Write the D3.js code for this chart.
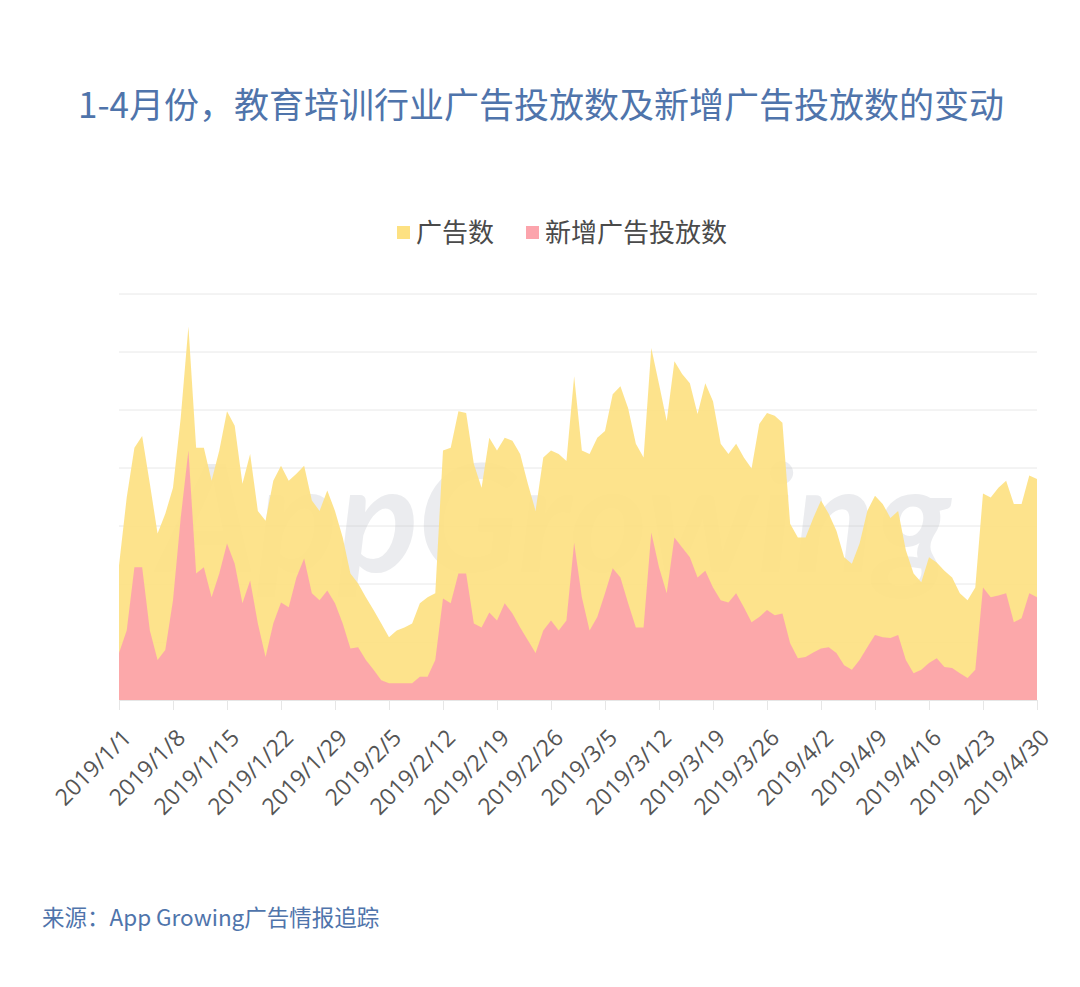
<!DOCTYPE html>
<html>
<head>
<meta charset="utf-8">
<script src="https://cdn.jsdelivr.net/npm/d3@7"></script>
<style>
  body { margin: 0; background: #fff; }
  svg { display: block; }
</style>
</head>
<body>
<svg id="canvas" width="1080" height="987"></svg>
<script>
// daily values, 2019/1/1 .. 2019/4/30
let adCount = [
  2320, 3490, 4350, 4550, 3730, 2870, 3210, 3660, 4860, 6440,
  4350, 4350, 3780, 4300, 4980, 4730, 3730, 4240, 3260, 3090,
  3780, 4040, 3780, 3900, 4040, 3440, 3260, 3610, 3260, 2800,
  2180, 2010, 1770, 1550, 1320, 1080, 1200, 1250, 1320, 1670,
  1770, 1840, 4300, 4350, 4980, 4950, 4070, 3660, 4520, 4300,
  4520, 4470, 4240, 3730, 3260, 4180, 4300, 4240, 4120, 5580,
  4300, 4240, 4520, 4640, 5270, 5410, 5030, 4420, 4180, 6070,
  5450, 4810, 5840, 5620, 5460, 4930, 5460, 5150, 4420, 4240,
  4420, 4180, 3990, 4760, 4950, 4900, 4780, 3040, 2800, 2800,
  3140, 3440, 3210, 2920, 2460, 2350, 2700, 3260, 3520, 3380,
  3140, 3260, 2580, 2180, 2030, 2460, 2370, 2230, 2110, 1840,
  1720, 1940, 3560, 3490, 3660, 3780, 3380, 3380, 3870, 3810
]

let newAdCount = [
  810, 1200, 2290, 2290, 1200, 690, 860, 1720, 3140, 4300,
  2180, 2290, 1770, 2180, 2700, 2350, 1670, 2060, 1320, 740,
  1320, 1680, 1600, 2110, 2440, 1840, 1720, 1890, 1670, 1320,
  890, 910, 690, 520, 340, 290, 290, 290, 290, 400,
  400, 690, 1750, 1670, 2180, 2180, 1320, 1250, 1510, 1370,
  1670, 1490, 1250, 1030, 810, 1200, 1370, 1200, 1370, 2710,
  1770, 1200, 1430, 1840, 2270, 2110, 1670, 1250, 1250, 2890,
  2290, 1840, 2800, 2630, 2460, 2110, 2230, 1940, 1720, 1680,
  1840, 1600, 1340, 1430, 1550, 1460, 1490, 980, 720, 740,
  820, 890, 910, 810, 600, 520, 690, 910, 1120, 1080,
  1070, 1120, 690, 460, 520, 640, 720, 570, 550, 460,
  380, 520, 1940, 1770, 1800, 1840, 1340, 1410, 1840, 1770
]

let seriesNames = ['广告数', '新增广告投放数']
let seriesColors = ['#fde182', '#fca4ac']

let dates = d3.timeDay.range(new Date(2019, 0, 1), new Date(2019, 4, 1))
let tickDates = dates.filter((d, i) => i % 7 === 0 || i === dates.length - 1)

let canvas = d3.select('#canvas')

let plotLeft = 119
let plotRight = 1037
let plotTop = 294
let plotBottom = 700

let xScale = d3.scaleTime()
               .domain([dates[0], dates[dates.length - 1]])
               .range([plotLeft, plotRight])

let yScale = d3.scaleLinear()
               .domain([0, 7000])
               .range([plotBottom, plotTop])

// title
canvas.append('text')
      .attr('x', 541)
      .attr('y', 118)
      .attr('text-anchor', 'middle')
      .style('font-family', '"Noto Sans CJK SC", sans-serif')
      .style('font-size', '35px')
      .style('fill', '#4f74ab')
      .text('1-4月份，教育培训行业广告投放数及新增广告投放数的变动')

// legend
let legendX = [397, 526]
seriesNames.forEach((name, i) => {
  canvas.append('rect')
        .attr('x', legendX[i])
        .attr('y', 226)
        .attr('width', 13)
        .attr('height', 13)
        .attr('fill', seriesColors[i])
  canvas.append('text')
        .attr('x', legendX[i] + 19)
        .attr('y', 242)
        .style('font-family', '"Noto Sans CJK SC", sans-serif')
        .style('font-size', '26px')
        .style('fill', '#4a4a4a')
        .text(name)
})

// grid
canvas.append('g')
      .selectAll('line')
      .data(yScale.ticks(7).filter((t) => t > 0))
      .enter()
      .append('line')
      .attr('x1', plotLeft)
      .attr('x2', plotRight)
      .attr('y1', (t) => yScale(t))
      .attr('y2', (t) => yScale(t))
      .attr('stroke', '#e8e8e8')
      .attr('stroke-width', 1)

// watermark
canvas.append('text')
      .attr('x', 555)
      .attr('y', 572)
      .attr('text-anchor', 'middle')
      .style('font-family', 'Lato, sans-serif')
      .style('font-style', 'italic')
      .style('font-weight', 'bold')
      .style('font-size', '150px')
      .style('fill', '#b4b8c2')
      .style('opacity', 0.26)
      .text('AppGrowing')

let makeArea = (values) => {
  return d3.area()
           .x((d, i) => xScale(dates[i]))
           .y0(yScale(0))
           .y1((d) => yScale(d))(values)
}

canvas.append('path')
      .attr('d', makeArea(adCount))
      .attr('fill', seriesColors[0])
      .attr('opacity', 0.92)

canvas.append('path')
      .attr('d', makeArea(newAdCount))
      .attr('fill', seriesColors[1])
      .attr('opacity', 0.95)

// x axis
let xAxis = d3.axisBottom(xScale)
              .tickValues(tickDates)
              .tickFormat(d3.timeFormat('%Y/%-m/%-d'))
              .tickSize(10)
              .tickSizeOuter(0)

let axisG = canvas.append('g')
                  .attr('transform', 'translate(0,' + plotBottom + ')')
                  .call(xAxis)

axisG.select('.domain').attr('stroke', '#e6e6e6')
axisG.selectAll('.tick line').attr('stroke', '#e6e6e6')
axisG.selectAll('.tick text')
     .attr('text-anchor', 'end')
     .attr('dx', 0)
     .attr('dy', 0)
     .attr('transform', 'translate(4,30) rotate(-45)')
     .style('font-family', '"Open Sans", sans-serif')
     .style('font-size', '23px')
     .style('fill', '#555')

// source
canvas.append('text')
      .attr('x', 42)
      .attr('y', 926)
      .style('font-family', '"Noto Sans CJK SC", sans-serif')
      .style('font-size', '22.5px')
      .style('fill', '#4f74ab')
      .text('来源：App Growing广告情报追踪')
</script>
</body>
</html>
